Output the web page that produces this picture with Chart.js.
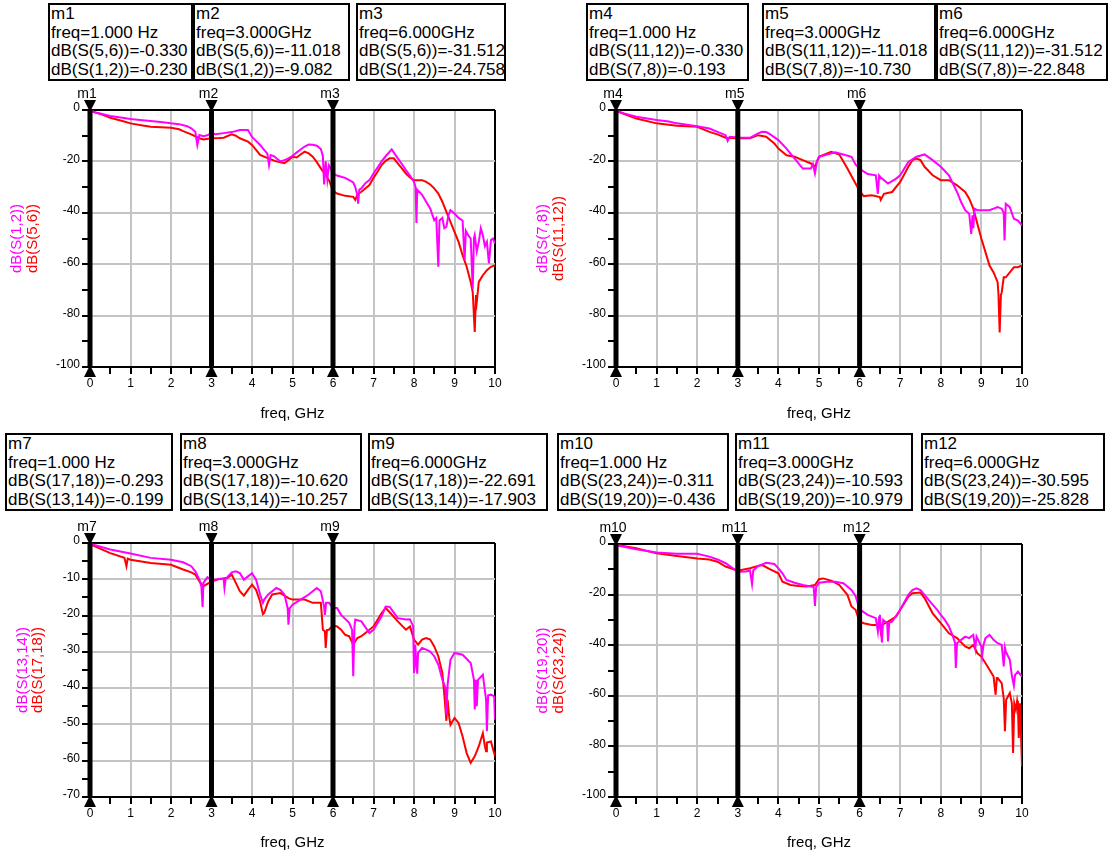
<!DOCTYPE html>
<html>
<head>
<meta charset="utf-8">
<script src="https://cdn.jsdelivr.net/npm/chart.js@4.4.0/dist/chart.umd.min.js"></script>
<style>
  body { margin: 0; background: #fff; width: 1111px; height: 860px; position: relative; overflow: hidden;
         font-family: "Liberation Sans", Arial, sans-serif; }
  .box { position: absolute; box-sizing: border-box; border: 2px solid #000; height: 78px;
         font-size: 17px; line-height: 18.5px; padding-left: 1px; white-space: nowrap; color: #000; }
  canvas { position: absolute; }
</style>
</head>
<body>
<canvas id="c1" width="525" height="340" style="left:0;top:85px"></canvas>
<canvas id="c2" width="540" height="340" style="left:525px;top:85px"></canvas>
<canvas id="c3" width="525" height="345" style="left:0;top:515px"></canvas>
<canvas id="c4" width="540" height="345" style="left:525px;top:515px"></canvas>
<script>
// ---- data: [freq GHz, dB] ----
const markerFreqs = [0, 3, 6];

const S12 = [[0,-0.23],[0.2,-1.2],[0.5,-2.3],[0.8,-3.0],[1,-3.5],[1.3,-4.0],[1.5,-4.3],[1.8,-4.8],[2,-5.2],[2.2,-5.5],[2.4,-6.3],[2.5,-7.1],[2.6,-8.5],[2.65,-13.6],[2.7,-9.7],[2.8,-10.2],[2.9,-9.8],[3,-9.08],[3.1,-9.4],[3.3,-9.0],[3.5,-8.6],[3.7,-7.8],[3.9,-7.8],[4.0,-10.5],[4.1,-12],[4.2,-13.6],[4.3,-15.5],[4.38,-17],[4.42,-21.4],[4.46,-17.5],[4.55,-18],[4.6,-18.8],[4.7,-20],[4.8,-19.5],[4.9,-18.8],[5.0,-17.8],[5.1,-16.6],[5.2,-15.4],[5.3,-14.2],[5.4,-13.4],[5.5,-13.5],[5.6,-13.9],[5.7,-15.2],[5.75,-18],[5.78,-29],[5.82,-20],[5.86,-27],[5.9,-21.5],[5.95,-23],[6,-24.76],[6.1,-25.5],[6.2,-26],[6.3,-26.4],[6.4,-27.3],[6.5,-28.2],[6.55,-30],[6.6,-33],[6.62,-36.4],[6.65,-31],[6.7,-30.5],[6.8,-28.5],[6.9,-27.3],[7,-24.7],[7.1,-22.4],[7.2,-20],[7.3,-18],[7.45,-15.3],[7.6,-18.8],[7.7,-21],[7.8,-23.4],[7.9,-25.5],[8.0,-28],[8.04,-30],[8.06,-44],[8.08,-31],[8.2,-33],[8.3,-35.7],[8.4,-38.3],[8.5,-42.9],[8.55,-42],[8.6,-61],[8.63,-43],[8.7,-42],[8.75,-46],[8.8,-45.5],[8.85,-41],[8.9,-39],[9.0,-40.3],[9.1,-42],[9.2,-43],[9.25,-58.4],[9.28,-47],[9.35,-49],[9.4,-50],[9.45,-69.5],[9.48,-50],[9.5,-48.7],[9.55,-55],[9.6,-51.3],[9.65,-46],[9.7,-48.7],[9.75,-53],[9.8,-51.3],[9.85,-59.7],[9.9,-50.6],[9.95,-50],[10,-52]];
const S56 = [[0,-0.33],[0.3,-1.8],[0.5,-3],[0.8,-4.3],[1,-5.2],[1.3,-6],[1.5,-6.5],[2,-6.9],[2.2,-7.5],[2.3,-8.2],[2.5,-9.5],[2.7,-11],[2.8,-11.5],[3,-11.02],[3.2,-10.9],[3.3,-10.8],[3.5,-9.5],[3.6,-10],[3.7,-11],[3.9,-12.3],[4,-13.6],[4.1,-15.5],[4.2,-17.5],[4.4,-18.8],[4.6,-20],[4.8,-20.7],[4.9,-19.5],[5,-18.2],[5.1,-18.5],[5.2,-17.3],[5.3,-16.2],[5.4,-16.9],[5.5,-18.2],[5.6,-20.3],[5.7,-22.7],[5.8,-25],[5.9,-27.3],[6,-31.5],[6.1,-32.5],[6.3,-33.4],[6.5,-33.8],[6.55,-35],[6.6,-33],[6.7,-31.8],[6.9,-29.2],[7,-26.4],[7.1,-24],[7.2,-21.4],[7.3,-19.8],[7.4,-18.8],[7.5,-18.8],[7.6,-20.8],[7.7,-22.7],[7.8,-24.7],[7.9,-26.3],[8,-27.3],[8.2,-27.3],[8.3,-28],[8.4,-29],[8.5,-30.5],[8.6,-32.5],[8.7,-35.7],[8.8,-39.6],[8.9,-43.5],[9,-47.4],[9.1,-51.3],[9.2,-56.5],[9.3,-61],[9.4,-66.9],[9.45,-70.8],[9.5,-86.4],[9.53,-72],[9.55,-74.7],[9.6,-66.9],[9.7,-64.3],[9.8,-62.3],[9.9,-61],[10,-60.4]];

const S78 = [[0,-0.19],[0.2,-1.3],[0.5,-2.6],[1,-3.9],[1.3,-4.5],[1.5,-5.2],[2,-6.3],[2.3,-7.2],[2.5,-8.5],[2.7,-9.8],[2.75,-12],[2.8,-10.4],[3,-10.73],[3.3,-10.8],[3.5,-9.1],[3.6,-8.5],[3.7,-8.6],[3.8,-9.5],[4,-11.7],[4.2,-15],[4.4,-18.9],[4.6,-22.8],[4.8,-22.8],[4.85,-21],[4.9,-24.7],[4.95,-20],[5,-18.2],[5.2,-17.3],[5.4,-16.5],[5.6,-17.3],[5.8,-18.2],[5.9,-21.2],[6,-22.85],[6.2,-24.9],[6.4,-25.4],[6.45,-32.6],[6.48,-25.5],[6.5,-26],[6.7,-28.6],[6.9,-26.7],[7,-25.4],[7.2,-20.2],[7.4,-18.2],[7.6,-17.3],[7.8,-19.5],[8,-22.1],[8.2,-25.4],[8.4,-31.9],[8.5,-35.8],[8.6,-39],[8.7,-40.4],[8.75,-48.2],[8.78,-41],[8.8,-46],[8.83,-38.4],[8.9,-39],[9,-39],[9.2,-39],[9.3,-38.4],[9.4,-37.8],[9.5,-38.4],[9.55,-40],[9.57,-50.8],[9.6,-36.5],[9.7,-37.8],[9.8,-42.3],[9.9,-43],[10,-44.9]];
const S1112 = [[0,-0.33],[0.5,-3.3],[1,-5.2],[1.5,-6.1],[2,-6.5],[2.3,-8.5],[2.5,-9.5],[2.7,-10.8],[3,-11.02],[3.3,-11],[3.5,-9.8],[3.7,-10.4],[3.9,-13],[4,-15],[4.2,-17.6],[4.4,-18.2],[4.6,-19.5],[4.8,-20.8],[4.9,-22],[5,-18.2],[5.2,-16.9],[5.3,-16.3],[5.5,-17.3],[5.7,-22.8],[5.9,-28.6],[6,-31.5],[6.1,-33.5],[6.3,-33.2],[6.5,-33.9],[6.52,-35],[6.6,-32.6],[6.8,-31.9],[7,-28],[7.2,-22.1],[7.3,-19.5],[7.4,-18.9],[7.5,-19.5],[7.6,-22.1],[7.8,-25.4],[8,-27.3],[8.2,-27.3],[8.4,-29.3],[8.6,-31.9],[8.7,-34.5],[8.8,-38.4],[8.9,-44.3],[9,-50.1],[9.1,-55.3],[9.2,-60.5],[9.3,-63.2],[9.4,-67],[9.42,-71.6],[9.45,-86.6],[9.48,-72],[9.5,-71],[9.55,-65.1],[9.6,-65.1],[9.7,-63.2],[9.8,-61.2],[9.9,-61.2],[10,-60.5]];

const S1314 = [[0,-0.2],[0.5,-1.8],[1,-2.9],[1.5,-4.1],[2,-4.6],[2.3,-5.3],[2.5,-6.4],[2.6,-7.8],[2.7,-10.1],[2.75,-12],[2.78,-17.6],[2.8,-11],[2.9,-9.4],[3,-10.26],[3.2,-9.9],[3.3,-9.9],[3.32,-12.4],[3.35,-9.9],[3.5,-8.1],[3.6,-7.8],[3.7,-8.3],[3.8,-10.1],[4,-8.3],[4.1,-10.1],[4.2,-14.2],[4.27,-16.5],[4.3,-15.6],[4.4,-14.2],[4.6,-12.4],[4.7,-12.9],[4.8,-14.2],[4.88,-17.9],[4.9,-22.5],[4.93,-18],[5,-17],[5.2,-15.6],[5.4,-14.2],[5.5,-13.3],[5.6,-12.4],[5.7,-13.3],[5.78,-17.5],[5.8,-19.8],[5.83,-16.5],[5.9,-16.5],[6,-17.9],[6.1,-17.9],[6.2,-19.8],[6.4,-22],[6.47,-23.9],[6.5,-36.7],[6.53,-23],[6.55,-21.1],[6.7,-21.6],[6.9,-24.8],[7,-23.9],[7.2,-20.2],[7.3,-17.5],[7.4,-17.6],[7.6,-20.7],[7.8,-21.1],[7.9,-21],[7.98,-23],[8.0,-35.8],[8.03,-28],[8.06,-34],[8.08,-36],[8.1,-30.3],[8.2,-28.9],[8.3,-29.4],[8.4,-29.9],[8.5,-31.2],[8.6,-33.5],[8.7,-37.7],[8.78,-40],[8.8,-47.3],[8.83,-39],[8.9,-32.2],[9,-30.3],[9.2,-30.8],[9.4,-33.1],[9.48,-37.7],[9.5,-45.9],[9.53,-37.7],[9.55,-45],[9.58,-37.7],[9.7,-36.3],[9.78,-43.2],[9.8,-51.9],[9.83,-42],[9.9,-41.8],[9.98,-42.3],[10,-48.7]];
const S1718 = [[0,-0.29],[0.5,-2.8],[0.85,-4.1],[0.9,-6.4],[0.93,-4.3],[1,-4.6],[1.5,-5.5],[2,-6],[2.3,-7.3],[2.5,-8.1],[2.6,-8.7],[2.7,-10.6],[2.8,-11.9],[3,-10.62],[3.2,-9.9],[3.4,-9.6],[3.5,-8.7],[3.6,-11],[3.7,-13.3],[3.8,-14.5],[3.9,-12.9],[4,-11.5],[4.1,-12.9],[4.2,-16.1],[4.27,-19.6],[4.3,-19.3],[4.4,-16.1],[4.5,-14.2],[4.7,-13.8],[4.9,-15.2],[5,-15.6],[5.3,-15.6],[5.5,-16.5],[5.7,-16.5],[5.75,-23.9],[5.8,-24.3],[5.82,-28.9],[5.85,-24],[5.9,-23.9],[6,-22.69],[6.1,-23],[6.2,-23.9],[6.3,-25.3],[6.4,-25.7],[6.5,-28],[6.6,-26.2],[6.7,-25.7],[6.8,-24.8],[7,-23],[7.2,-19.3],[7.3,-17.9],[7.4,-19.1],[7.6,-21.6],[7.8,-23.9],[7.9,-23],[8,-26.6],[8.1,-28],[8.2,-26.6],[8.3,-26.2],[8.4,-26.6],[8.5,-28.5],[8.6,-31.2],[8.7,-35.8],[8.75,-42],[8.8,-49],[8.83,-43.2],[8.87,-48],[8.9,-50.1],[9,-48.2],[9.1,-49.6],[9.2,-53.3],[9.3,-57.9],[9.4,-60.6],[9.5,-58.8],[9.6,-56],[9.7,-52.4],[9.75,-56],[9.78,-57.4],[9.8,-55],[9.9,-54.7],[10,-58.8]];

const S1920 = [[0,-0.44],[0.5,-2.1],[1,-3.4],[1.5,-3.9],[2,-3.9],[2.3,-5],[2.5,-6.1],[2.7,-7.6],[3,-10.98],[3.2,-10.9],[3.3,-10.5],[3.35,-15.8],[3.38,-10.5],[3.5,-8.7],[3.7,-7.4],[3.9,-7.9],[4,-9.6],[4.1,-11.6],[4.2,-14.2],[4.4,-15.3],[4.6,-16.2],[4.8,-16.8],[4.87,-17],[4.9,-24.5],[4.93,-17],[5,-15.3],[5.2,-14.9],[5.4,-14.9],[5.6,-15.5],[5.8,-18.2],[5.9,-20.5],[6,-25.8],[6.2,-28],[6.4,-29.3],[6.45,-34.6],[6.48,-29],[6.5,-28],[6.55,-38.9],[6.58,-30],[6.6,-30],[6.68,-31.3],[6.7,-38.5],[6.73,-31],[6.8,-30.7],[7,-26],[7.2,-20.1],[7.3,-18.2],[7.4,-17.5],[7.5,-18.2],[7.7,-22.1],[7.9,-25.8],[8,-28],[8.1,-30],[8.2,-32.6],[8.3,-36.6],[8.35,-39],[8.37,-49],[8.4,-39.2],[8.5,-37.9],[8.6,-36.6],[8.7,-37.2],[8.8,-35.9],[8.85,-41.2],[8.88,-36.6],[9,-40.5],[9.02,-44],[9.05,-40],[9.1,-37.2],[9.2,-35.9],[9.3,-37.9],[9.4,-39.2],[9.5,-39.9],[9.55,-48.4],[9.58,-41],[9.6,-42.5],[9.7,-45.8],[9.75,-52],[9.8,-56],[9.83,-51.7],[9.9,-50.4],[10,-52.4]];
const S2324 = [[0,-0.31],[0.5,-1.7],[1,-3.7],[1.5,-4.7],[2,-5.7],[2.3,-6.1],[2.5,-7],[2.7,-8.9],[3,-10.59],[3.3,-9.6],[3.5,-8.7],[3.6,-8.3],[3.8,-10],[4,-11.6],[4.1,-14.9],[4.3,-16.2],[4.5,-16.6],[4.7,-16.8],[4.9,-16.2],[5,-13.9],[5.1,-13.6],[5.3,-14.5],[5.5,-16.2],[5.7,-20.1],[5.8,-24.7],[5.9,-26],[6,-30.6],[6.1,-31.3],[6.3,-32],[6.5,-32],[6.52,-34.5],[6.55,-32],[6.7,-30.7],[6.9,-28.7],[7,-26],[7.2,-20.8],[7.3,-19.5],[7.5,-19.2],[7.6,-21.4],[7.8,-27.4],[8,-31.3],[8.2,-35.3],[8.4,-37.2],[8.6,-40.5],[8.7,-41.2],[8.8,-39.9],[8.9,-43.2],[9,-44.5],[9.2,-49.7],[9.3,-52.4],[9.35,-59.6],[9.38,-53],[9.4,-53],[9.5,-55],[9.55,-61],[9.58,-74],[9.61,-61.6],[9.7,-58.9],[9.75,-63],[9.78,-82.6],[9.81,-62.9],[9.85,-65.5],[9.88,-62],[9.9,-64.2],[9.92,-76.7],[9.95,-63],[10,-87.9]];

// marker readouts
const markerText = [
  ['m1', 'freq=1.000 Hz', 'dB(S(5,6))=-0.330', 'dB(S(1,2))=-0.230'],
  ['m2', 'freq=3.000GHz', 'dB(S(5,6))=-11.018', 'dB(S(1,2))=-9.082'],
  ['m3', 'freq=6.000GHz', 'dB(S(5,6))=-31.512', 'dB(S(1,2))=-24.758'],
  ['m4', 'freq=1.000 Hz', 'dB(S(11,12))=-0.330', 'dB(S(7,8))=-0.193'],
  ['m5', 'freq=3.000GHz', 'dB(S(11,12))=-11.018', 'dB(S(7,8))=-10.730'],
  ['m6', 'freq=6.000GHz', 'dB(S(11,12))=-31.512', 'dB(S(7,8))=-22.848'],
  ['m7', 'freq=1.000 Hz', 'dB(S(17,18))=-0.293', 'dB(S(13,14))=-0.199'],
  ['m8', 'freq=3.000GHz', 'dB(S(17,18))=-10.620', 'dB(S(13,14))=-10.257'],
  ['m9', 'freq=6.000GHz', 'dB(S(17,18))=-22.691', 'dB(S(13,14))=-17.903'],
  ['m10', 'freq=1.000 Hz', 'dB(S(23,24))=-0.311', 'dB(S(19,20))=-0.436'],
  ['m11', 'freq=3.000GHz', 'dB(S(23,24))=-10.593', 'dB(S(19,20))=-10.979'],
  ['m12', 'freq=6.000GHz', 'dB(S(23,24))=-30.595', 'dB(S(19,20))=-25.828']
];
// box positions [left, top, width]
const boxPos = [
  [48, 3, 145], [193, 3, 157], [356, 3, 150],
  [586, 3, 163], [762, 3, 174], [936, 3, 172],
  [5, 433, 168], [180, 433, 182], [368, 433, 180],
  [557, 433, 172], [735, 433, 178], [921, 433, 184]
];
markerText.forEach((lines, i) => {
  const d = document.createElement('div');
  d.className = 'box';
  d.style.left = boxPos[i][0] + 'px';
  d.style.top = boxPos[i][1] + 'px';
  d.style.width = boxPos[i][2] + 'px';
  d.innerHTML = lines.map(t => '<div>' + t + '</div>').join('');
  document.body.appendChild(d);
});

Chart.defaults.font.family = '"Liberation Sans", Arial, sans-serif';
Chart.defaults.color = '#000';

const GRID = '#c4c4c4';
const NONE = 'rgba(0,0,0,0)';

const markerPlugin = {
  id: 'markers',
  afterDatasetsDraw(chart, args, o) {
    const { ctx, chartArea: a, scales: { x } } = chart;
    ctx.save();
    ctx.fillStyle = '#000';
    markerFreqs.forEach((f, i) => {
      const px = x.getPixelForValue(f);
      ctx.fillRect(px - 2.5, a.top, 5, a.bottom - a.top);
      ctx.beginPath();
      ctx.moveTo(px - 6, a.top - 10); ctx.lineTo(px + 6, a.top - 10); ctx.lineTo(px, a.top + 2);
      ctx.fill();
      ctx.beginPath();
      ctx.moveTo(px - 6, a.bottom + 10); ctx.lineTo(px + 6, a.bottom + 10); ctx.lineTo(px, a.bottom - 2);
      ctx.fill();
      ctx.font = '14px "Liberation Sans", Arial';
      ctx.textAlign = 'center';
      ctx.textBaseline = 'alphabetic';
      ctx.fillText(o.names[i], px - 3, a.top - 12);
    });
    // two-colour y axis title
    const cy = (a.top + a.bottom) / 2;
    ctx.font = '15px "Liberation Sans", Arial';
    ctx.textBaseline = 'middle';
    [[o.titles[0], '#ff00ff', o.titleX[0]], [o.titles[1], '#ff0000', o.titleX[1]]].forEach(([t, c, dx]) => {
      ctx.save();
      ctx.translate(a.left + dx, cy);
      ctx.rotate(-Math.PI / 2);
      ctx.fillStyle = c;
      ctx.fillText(t, 0, 0);
      ctx.restore();
    });
    ctx.restore();
  }
};

function makeChart(id, magenta, red, cfg) {
  const isMajorX = v => Math.abs(v - Math.round(v)) < 1e-6;
  const isMajorY = v => Math.abs(v % cfg.yLabel) < 1e-6;
  return new Chart(document.getElementById(id), {
    type: 'line',
    data: {
      datasets: [
        { data: magenta.map(p => ({ x: p[0], y: p[1] })), borderColor: '#ff00ff', borderWidth: 2, pointRadius: 0, tension: 0 },
        { data: red.map(p => ({ x: p[0], y: p[1] })), borderColor: '#ff0000', borderWidth: 2, pointRadius: 0, tension: 0 }
      ]
    },
    options: {
      responsive: false,
      animation: false,
      layout: { padding: { left: 0, top: cfg.top, right: cfg.right, bottom: 0 } },
      plugins: {
        legend: { display: false },
        tooltip: { enabled: false },
        markers: { names: cfg.names, titles: cfg.titles, titleX: cfg.titleX }
      },
      scales: {
        x: {
          type: 'linear', min: 0, max: 10,
          ticks: { stepSize: 0.5, autoSkip: false, maxRotation: 0, padding: 2, font: { size: 12 },
                   callback: v => isMajorX(v) ? String(Math.round(v)) : '' },
          grid: {
            color: c => !c.tick ? NONE : (c.tick.value === 10 ? '#000' : (isMajorX(c.tick.value) ? GRID : NONE)),
            lineWidth: 2, tickColor: '#000', tickWidth: 2, tickLength: 7
          },
          border: { color: '#000', width: 2 },
          title: { display: true, text: 'freq, GHz', font: { size: 15 }, padding: { top: 0, bottom: cfg.titlePad } },
          afterFit: s => { s.height = cfg.xH; }
        },
        y: {
          min: cfg.yMin, max: 0,
          ticks: { stepSize: cfg.yStep, autoSkip: false, padding: 2, labelOffset: -2, font: { size: 12 },
                   callback: v => isMajorY(v) ? String(v) : '' },
          grid: {
            color: c => !c.tick ? NONE : ((c.tick.value === 0 || c.tick.value === cfg.yMin) ? '#000' : (isMajorY(c.tick.value) ? GRID : NONE)),
            lineWidth: 2, tickColor: '#000', tickWidth: 2, tickLength: 8
          },
          border: { color: '#000', width: 2 },
          afterFit: s => { s.width = cfg.yW; }
        }
      }
    },
    plugins: [markerPlugin]
  });
}

makeChart('c1', S12, S56, { top: 25, right: 30, yW: 90, xH: 58, titlePad: 2, yMin: -100, yStep: 10, yLabel: 20,
  names: ['m1', 'm2', 'm3'], titles: ['dB(S(1,2))', 'dB(S(5,6))'], titleX: [-73, -57] });
makeChart('c2', S78, S1112, { top: 25, right: 43, yW: 91, xH: 58, titlePad: 2, yMin: -100, yStep: 10, yLabel: 20,
  names: ['m4', 'm5', 'm6'], titles: ['dB(S(7,8))', 'dB(S(11,12))'], titleX: [-73, -57] });
makeChart('c3', S1314, S1718, { top: 28, right: 30, yW: 90, xH: 63, titlePad: 8, yMin: -70, yStep: 5, yLabel: 10,
  names: ['m7', 'm8', 'm9'], titles: ['dB(S(13,14))', 'dB(S(17,18))'], titleX: [-67, -52] });
makeChart('c4', S1920, S2324, { top: 29, right: 43, yW: 91, xH: 63, titlePad: 8, yMin: -100, yStep: 10, yLabel: 20,
  names: ['m10', 'm11', 'm12'], titles: ['dB(S(19,20))', 'dB(S(23,24))'], titleX: [-73, -57] });
</script>
</body>
</html>
